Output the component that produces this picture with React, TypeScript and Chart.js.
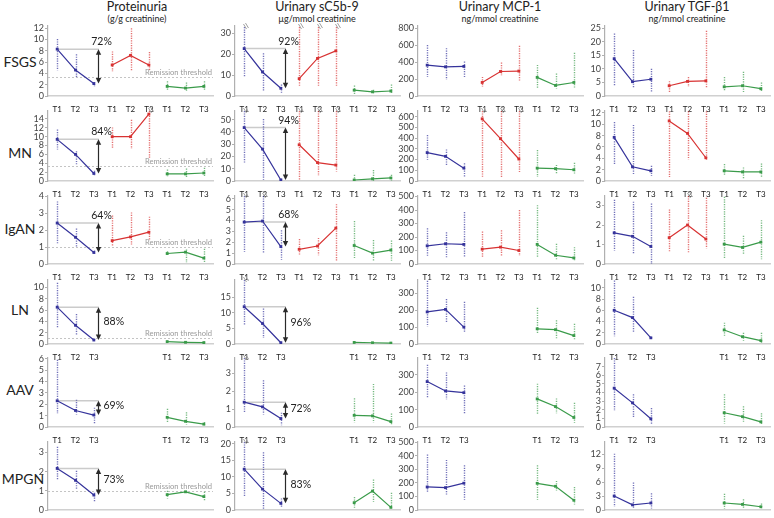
import React, { useEffect, useRef } from "react";
import { Chart, registerables } from "chart.js";

Chart.register(...registerables);

// ---------------- data ----------------
const ROWS = ["FSGS", "MN", "IgAN", "LN", "AAV", "MPGN"];
const TIMES = ["T1", "T2", "T3"];
const COL_TITLES = ["Proteinuria", "Urinary sC5b-9", "Urinary MCP-1", "Urinary TGF-\u03b21"];
const COL_UNITS = ["(g/g creatinine)", "\u00b5g/mmol creatinine", "ng/mmol creatinine", "ng/mmol creatinine"];

// each row: blue T1..T3, red T1..T3, green T1..T3
const PROT_MEAN = [
  [8.3, 4.6, 2.2, 5.5, 7.2, 5.5, 1.7, 1.4, 1.7],
  [9.4, 6.0, 1.7, 10, 10, 15.1, 1.6, 1.6, 1.8],
  [2.42, 1.58, 0.68, 1.38, 1.6, 1.88, 0.62, 0.7, 0.35],
  [6.5, 3.3, 0.7, null, null, null, 0.42, 0.3, 0.25],
  [2.3, 1.45, 1.05, null, null, null, 0.85, 0.5, 0.25],
  [2.17, 1.55, 0.78, null, null, null, 0.8, 0.95, 0.7],
];
const PROT_LO = [
  [4.5, 3.2, 1.6, 4.4, 4.4, 4.4, 1.0, 0.7, 0.9],
  [7.1, 3.8, 1.2, 7.2, 7.2, 5.1, 0.9, 0.8, 1.0],
  [1.22, 0.97, 0.6, 1.07, 1.15, 1.4, 0.5, 0.1, 0.1],
  [2.8, 1.5, 0.5, null, null, null, 0.3, 0.15, 0.1],
  [1.2, 1.1, 0.3, null, null, null, 0.4, 0.2, 0.15],
  [1.6, 1.1, 0.45, null, null, null, 0.6, 0.9, 0.45],
];
const PROT_HI = [
  [10.1, 7.4, 2.5, 7.9, 12.0, 7.8, 2.6, 2.4, 2.6],
  [11.6, 6.7, 2.3, 12.1, 13.8, 16.5, 2.6, 2.8, 3.0],
  [3.7, 2.1, 0.8, 2.87, 3.05, 2.8, 0.75, 0.85, 0.9],
  [10.8, 5.3, 0.9, null, null, null, 0.6, 0.45, 0.4],
  [5.9, 2.4, 1.7, null, null, null, 1.6, 1.3, 0.45],
  [3.3, 2.05, 0.9, null, null, null, 1.0, 1.0, 0.95],
];

const C5B9_MEAN = [
  [22.7, 11.5, 3.7, 8.3, 18, 21.6, 2.8, 2.0, 2.4],
  [43.5, 26, 0.8, 29.5, 15, 13, 0.8, 1.8, 2.5],
  [3.85, 3.95, 1.6, 1.35, 1.65, 3.3, 1.7, 1.0, 1.28],
  [12, 6.6, 0.4, null, null, null, 0.5, 0.4, 0.3],
  [1.38, 1.12, 0.47, null, null, null, 0.65, 0.62, 0.3],
  [12.3, 6.3, 2.0, null, null, null, 2.2, 5.7, 0.8],
];
const C5B9_LO = [
  [9, 2.4, 1.5, 4.5, 4.5, 4.5, 1.0, 0.8, 1.0],
  [15, 1, 0, 0.5, 4, 7.7, 0, 0, 0.5],
  [1.1, 1.0, 0.4, 0.8, 0.8, 0.3, 0.55, 0.2, 0.3],
  [6.3, 1.9, 0.2, null, null, null, 0.3, 0.2, 0.1],
  [0.8, 0.7, 0.1, null, null, null, 0.25, 0.25, 0.1],
  [3.9, 0.1, 0.8, null, null, null, 0.5, 2.5, 0.2],
];
const C5B9_HI = [
  [33, 20.4, 5.5, 33, 33, 33, 5, 3, 5.5],
  [57, 50.5, 2, 57, 57, 57, 5, 9, 5],
  [6.3, 6.3, 3.1, 2.3, 2.4, 5.5, 3.95, 2.2, 2.15],
  [21, 11.4, 0.8, null, null, null, 0.8, 0.6, 0.5],
  [3.84, 2.6, 0.8, null, null, null, 1.6, 2.4, 0.75],
  [20.8, 17.4, 3.5, null, null, null, 3.9, 9.2, 5.2],
];

const MCP1_MEAN = [
  [365, 345, 350, 160, 290, 295, 220, 125, 160],
  [265, 230, 120, 580, 395, 205, 120, 115, 105],
  [135, 150, 145, 110, 125, 100, 145, 65, 45],
  [190, 205, 100, null, null, null, 90, 85, 50],
  [262, 208, 198, null, null, null, 162, 118, 55],
  [170, 165, 198, null, null, null, 197, 175, 72],
];
const MCP1_LO = [
  [226, 194, 218, 107, 245, 178, 99, 90, 95],
  [199, 140, 40, 40, 25, 84, 37, 60, 60],
  [59, 50, 50, 50, 60, 60, 50, 30, 20],
  [103, 126, 70, null, null, null, 63, 30, 25],
  [166, 160, 75, null, null, null, 75, 80, 25],
  [131, 115, 75, null, null, null, 75, 140, 40],
];
const MCP1_HI = [
  [602, 566, 408, 226, 395, 594, 368, 265, 511],
  [429, 295, 165, 660, 660, 660, 289, 150, 170],
  [265, 235, 385, 240, 250, 400, 436, 150, 125],
  [375, 266, 250, null, null, null, 215, 140, 120],
  [359, 315, 239, null, null, null, 250, 165, 140],
  [409, 370, 330, null, null, null, 330, 215, 170],
];

const TGF_MEAN = [
  [13.8, 5.3, 6.2, 3.8, 5.4, 5.6, 3.4, 3.8, 2.7],
  [7.7, 2.5, 1.8, 10.6, 8.4, 4.1, 1.8, 1.6, 1.6],
  [1.6, 1.42, 0.9, 1.35, 2.0, 1.28, 1.02, 0.85, 1.12],
  [6.0, 4.7, 1.1, null, null, null, 2.5, 1.3, 0.6],
  [4.5, 2.8, 0.95, null, null, null, 1.65, 1.2, 0.6],
  [3.0, 1.1, 1.5, null, null, null, 1.5, 1.2, 0.7],
];
const TGF_LO = [
  [3.7, 2.8, 1.6, 1.3, 3.3, 3.0, 1.8, 1.0, 1.5],
  [3, 1.2, 0.9, 0.7, 3.8, 3.7, 1.0, 0.5, 0.6],
  [0.69, 0.5, 0, 0.65, 0.6, 0.8, 0.25, 0.5, 0.25],
  [1.4, 2.2, 1.0, null, null, null, 1.4, 0.6, 0.2],
  [1.85, 1.1, 0.3, null, null, null, 0.4, 0.6, 0.3],
  [0.7, 0.3, 0.3, null, null, null, 0.3, 0.5, 0.3],
];
const TGF_HI = [
  [23.1, 17, 10.1, 5.5, 7, 24.1, 7, 9, 5],
  [10.4, 9.9, 2.7, 12.3, 12.3, 12.3, 3.0, 2.4, 3.1],
  [3.3, 3.2, 3.1, 2.8, 3.6, 3.4, 3.45, 1.45, 2.25],
  [11.3, 8.4, 1.2, null, null, null, 3.8, 2.0, 2.0],
  [8.0, 3.8, 2.2, null, null, null, 3.8, 2.4, 1.6],
  [12.1, 5.9, 3.6, null, null, null, 3.5, 2.3, 1.4],
];

// error bars cut at top (index of point per row)
const PROT_BROKEN = [[], [5], [], [], [], []];
const C5B9_BROKEN = [[0, 3, 4, 5], [0, 3, 4, 5], [0, 1], [0], [0], [0]];
const MCP1_BROKEN = [[], [3, 4, 5], [], [], [], []];
const TGF_BROKEN = [[], [], [4], [], [], []];

// axis ranges per row: [proteinuria, sC5b-9, MCP-1, TGF-b1]
const Y_MAX = [
  [12.4, 33.5, 828, 25.9],
  [15.8, 57, 653, 12.35],
  [4.02, 6.25, 504, 3.49],
  [11.3, 20.6, 379, 11.4],
  [6.06, 3.84, 398, 8.0],
  [3.55, 20.5, 502, 14.6],
];
const Y_STEP = [
  [2, 10, 200, 5],
  [2, 10, 100, 2],
  [1, 1, 100, 1],
  [2, 5, 100, 2],
  [1, 1, 100, 1],
  [1, 5, 100, 3],
];
const Y_TOP_TICK = [
  [12, 30, 800, 25],
  [14, 50, 600, 12],
  [4, 6, 500, 3],
  [10, 15, 300, 10],
  [6, 3, 300, 7],
  [3, 20, 500, 12],
];

// reduction T1 -> T3 (blue) in %, [proteinuria, sC5b-9]
const PCT_PROT = [72, 84, 64, 88, 69, 73];
const PCT_C5B9 = [92, 94, 68, 96, 72, 83];
const REMISSION = [3.3, 3.3, 1.0, 1.0, null, 1.0];

const MEANS = [PROT_MEAN, C5B9_MEAN, MCP1_MEAN, TGF_MEAN];
const LOWS = [PROT_LO, C5B9_LO, MCP1_LO, TGF_LO];
const HIGHS = [PROT_HI, C5B9_HI, MCP1_HI, TGF_HI];
const BROKEN = [PROT_BROKEN, C5B9_BROKEN, MCP1_BROKEN, TGF_BROKEN];
const PCTS = [PCT_PROT, PCT_C5B9];

// ---------------- layout / style ----------------
const COLORS = ["#35339b", "#d83232", "#3a9b4a"];
const FONT = "Lato, 'Open Sans', sans-serif";
const AX = [48, 235, 418, 605];
const PLOT_W = 169;
const ROW_TOP = [26, 111, 196, 280, 358, 442];
const ROW_BOT = [96, 181, 264, 344, 427, 510];
const Y_AXIS_W = 34;
const PAD_TOP = 8;
const X_AXIS_H = 16;
const TITLE_X = [137, 317, 500, 687];
const ROW_LABEL_X = [20, 20, 20, 20, 20, 23];
const ROW_LABEL_Y = [62, 153, 229, 310, 390, 479];

function makeExtras(r: number, c: number) {
  const mean = MEANS[c][r] as (number | null)[];
  const lo = LOWS[c][r] as (number | null)[];
  const hi = HIGHS[c][r] as (number | null)[];
  const broken = BROKEN[c][r] as number[];
  return {
    id: "extras",
    beforeDatasetsDraw(chart: any) {
      const { ctx, chartArea: a } = chart;
      const x = chart.scales.x;
      const y = chart.scales.y;
      ctx.save();
      // remission threshold
      if (c === 0 && REMISSION[r] != null) {
        const ty = Math.round(y.getPixelForValue(REMISSION[r] as number)) + 0.5;
        ctx.strokeStyle = "#c4c4c4";
        ctx.lineWidth = 1;
        ctx.setLineDash([2, 2]);
        ctx.beginPath();
        ctx.moveTo(a.left, ty);
        ctx.lineTo(a.right, ty);
        ctx.stroke();
        ctx.setLineDash([]);
        ctx.fillStyle = "#9a9a9a";
        ctx.font = `7.6px ${FONT}`;
        ctx.textAlign = "right";
        ctx.textBaseline = "alphabetic";
        ctx.fillText("Remission threshold", a.right - 1, ty - 2.5);
      }
      // reference line at T1
      if (c < 2) {
        const ax = x.getPixelForValue(2) + 4;
        const y1 = y.getPixelForValue(mean[0] as number);
        ctx.strokeStyle = "#cbcbcb";
        ctx.lineWidth = 1.5;
        ctx.beginPath();
        ctx.moveTo(x.getPixelForValue(0), y1);
        ctx.lineTo(ax + 1, y1);
        ctx.stroke();
      }
      // error bars
      for (let i = 0; i < 9; i++) {
        if (mean[i] == null || lo[i] == null || hi[i] == null) continue;
        const px = Math.round(x.getPixelForValue(i)) + 0.5;
        const yt = Math.max(y.getPixelForValue(hi[i] as number), a.top);
        const yb = Math.min(y.getPixelForValue(lo[i] as number), a.bottom);
        ctx.strokeStyle = COLORS[Math.floor(i / 3)];
        ctx.globalAlpha = 0.7;
        ctx.lineWidth = 1.4;
        ctx.setLineDash([1.2, 1.2]);
        ctx.beginPath();
        ctx.moveTo(px, yt);
        ctx.lineTo(px, yb);
        ctx.stroke();
        ctx.globalAlpha = 1;
        ctx.setLineDash([]);
        if (broken.includes(i)) {
          ctx.strokeStyle = "#a0a0a0";
          ctx.lineWidth = 1;
          ctx.beginPath();
          ctx.moveTo(px - 1, yt - 3);
          ctx.lineTo(px + 2, yt + 2);
          ctx.moveTo(px + 1, yt - 4);
          ctx.lineTo(px + 4, yt + 1);
          ctx.stroke();
        }
      }
      ctx.restore();
    },
    afterDatasetsDraw(chart: any) {
      if (c >= 2) return;
      const { ctx } = chart;
      const x = chart.scales.x;
      const y = chart.scales.y;
      const ax = Math.round(x.getPixelForValue(2) + 4) + 0.5;
      const y1 = y.getPixelForValue(mean[0] as number);
      const y2 = y.getPixelForValue(mean[2] as number);
      ctx.save();
      ctx.strokeStyle = "#2a2a2a";
      ctx.fillStyle = "#2a2a2a";
      ctx.lineWidth = 1.2;
      ctx.beginPath();
      ctx.moveTo(ax, y1 + 4);
      ctx.lineTo(ax, y2 - 4);
      ctx.stroke();
      ctx.beginPath();
      ctx.moveTo(ax, y1);
      ctx.lineTo(ax - 2.7, y1 + 5.5);
      ctx.lineTo(ax + 2.7, y1 + 5.5);
      ctx.closePath();
      ctx.fill();
      ctx.beginPath();
      ctx.moveTo(ax, y2);
      ctx.lineTo(ax - 2.7, y2 - 5.5);
      ctx.lineTo(ax + 2.7, y2 - 5.5);
      ctx.closePath();
      ctx.fill();
      ctx.font = `10.5px ${FONT}`;
      ctx.fillStyle = "#222";
      const label = `${PCTS[c][r]}%`;
      if (r < 3) {
        ctx.textAlign = "center";
        ctx.textBaseline = "alphabetic";
        ctx.fillText(label, ax + 3, y1 - 4);
      } else {
        ctx.textAlign = "left";
        ctx.textBaseline = "middle";
        ctx.fillText(label, ax + 5, (y1 + y2) / 2 - 2);
      }
      ctx.restore();
    },
  };
}

function Panel({ r, c }: { r: number; c: number }) {
  const ref = useRef<HTMLCanvasElement>(null);
  const w = Y_AXIS_W + PLOT_W;
  const h = ROW_BOT[r] - ROW_TOP[r] + PAD_TOP + X_AXIS_H;
  useEffect(() => {
    const mean = MEANS[c][r] as (number | null)[];
    const labels = mean.map((v, i) => {
      const g = Math.floor(i / 3);
      const has = mean.slice(g * 3, g * 3 + 3).some((m) => m != null);
      return has ? TIMES[i % 3] : "";
    });
    const datasets = [0, 1, 2].map((g) => ({
      data: mean.map((v, i) => (Math.floor(i / 3) === g ? v : null)),
      borderColor: COLORS[g],
      backgroundColor: COLORS[g],
      borderWidth: 1.2,
      pointStyle: "rect",
      pointRadius: 2,
      pointBorderWidth: 0,
      spanGaps: false,
      tension: 0,
    }));
    const step = Y_STEP[r][c];
    const topTick = Y_TOP_TICK[r][c];
    const chart = new Chart(ref.current as HTMLCanvasElement, {
      type: "line",
      data: { labels, datasets } as any,
      options: {
        animation: false,
        responsive: false,
        devicePixelRatio: 1,
        layout: { padding: { top: PAD_TOP, left: 0, right: 0, bottom: 0 } },
        plugins: { legend: { display: false }, tooltip: { enabled: false } },
        scales: {
          x: {
            type: "category",
            offset: true,
            grid: { display: false },
            border: { display: true, color: "#d0d0d0", width: 1.5 },
            ticks: {
              autoSkip: false,
              maxRotation: 0,
              minRotation: 0,
              padding: 1,
              color: "#222",
              font: { family: FONT, size: 8 },
            },
            afterFit: (s: any) => {
              s.height = X_AXIS_H;
            },
          },
          y: {
            min: 0,
            max: Y_MAX[r][c],
            grid: { display: true, drawOnChartArea: false, drawTicks: true, tickLength: 3, color: "#b0b0b0" },
            border: { display: true, color: "#b0b0b0", width: 1.2 },
            ticks: {
              autoSkip: false,
              padding: 1,
              color: "#444",
              font: { family: FONT, size: 9 },
              callback: (v: any) => String(v),
            },
            afterBuildTicks: (s: any) => {
              const t = [];
              for (let v = 0; v <= topTick + 1e-9; v += step) t.push({ value: Number(v.toFixed(4)) });
              s.ticks = t;
            },
            afterFit: (s: any) => {
              s.width = Y_AXIS_W;
            },
          },
        },
      } as any,
      plugins: [makeExtras(r, c) as any],
    });
    return () => chart.destroy();
  }, [r, c]);
  return (
    <canvas
      ref={ref}
      width={w}
      height={h}
      style={{ position: "absolute", left: AX[c] - Y_AXIS_W, top: ROW_TOP[r] - PAD_TOP, width: w, height: h }}
    />
  );
}

export default function App() {
  return (
    <div
      style={{
        position: "absolute",
        left: 0,
        top: 0,
        width: 774,
        height: 518,
        background: "#fff",
        overflow: "hidden",
        fontFamily: FONT,
        color: "#222",
      }}
    >
      {COL_TITLES.map((t, c) => (
        <div key={"t" + c}>
          <div
            style={{
              position: "absolute",
              left: TITLE_X[c],
              top: 7,
              transform: "translate(-50%, -50%)",
              fontSize: 12.5,
              lineHeight: 1,
              whiteSpace: "nowrap",
            }}
          >
            {t}
          </div>
          <div
            style={{
              position: "absolute",
              left: TITLE_X[c],
              top: 17.5,
              transform: "translate(-50%, -50%)",
              fontSize: 9,
              lineHeight: 1,
              whiteSpace: "nowrap",
            }}
          >
            {COL_UNITS[c]}
          </div>
        </div>
      ))}
      {ROWS.map((name, r) => (
        <div
          key={"r" + name}
          style={{
            position: "absolute",
            left: ROW_LABEL_X[r],
            top: ROW_LABEL_Y[r],
            transform: "translate(-50%, -50%)",
            fontSize: 14,
            lineHeight: 1,
            whiteSpace: "nowrap",
          }}
        >
          {name}
        </div>
      ))}
      {ROWS.map((name, r) => [0, 1, 2, 3].map((c) => <Panel key={name + c} r={r} c={c} />))}
    </div>
  );
}
